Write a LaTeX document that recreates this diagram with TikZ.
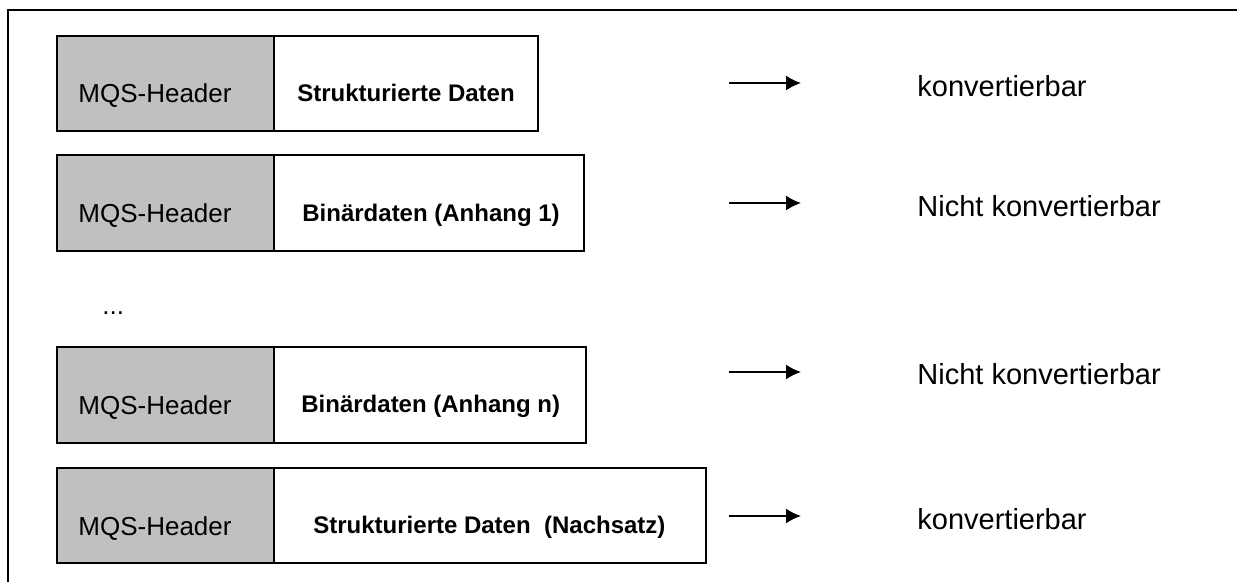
\documentclass[tikz,border=0pt]{standalone}
\usepackage{fontspec}
\setmainfont{Liberation Sans}
\usetikzlibrary{arrows.meta}
\definecolor{hdrgray}{HTML}{C0C0C0}
\tikzset{
  hdrbox/.style={draw=black,fill=hdrgray,line width=0.6pt},
  datbox/.style={draw=black,fill=white,line width=0.6pt},
  hdrtxt/.style={anchor=base west,inner sep=0pt,font=\fontsize{13}{15}\selectfont},
  dattxt/.style={anchor=base west,inner sep=0pt,font=\fontsize{12}{14}\selectfont\bfseries},
  restxt/.style={anchor=base west,inner sep=0pt,font=\fontsize{14.5}{17}\selectfont},
  conv/.style={->,line width=0.8pt}
}
\begin{document}
\begin{tikzpicture}[x=0.5pt,y=-0.5pt,>={Latex[length=7.5pt,width=7.5pt]},line join=miter]
				\useasboundingbox (0,0) rectangle (1237,582);
				% frame
				\draw[line width=0.8pt] (1237,10) -- (8,10) -- (8,582);
				% rows
				\draw[hdrbox] (57,36) rectangle (274,131);
				\draw[datbox] (274,36) rectangle (538,131);
				\draw[hdrbox] (57,155) rectangle (274,251);
				\draw[datbox] (274,155) rectangle (584,251);
				\draw[hdrbox] (57,347) rectangle (274,443);
				\draw[datbox] (274,347) rectangle (586,443);
				\draw[hdrbox] (57,468) rectangle (274,563);
				\draw[datbox] (274,468) rectangle (706,563);
				\node[hdrtxt] (h1) at (78,103) {MQS-Header};
				\node[hdrtxt] (h2) at (78,223) {MQS-Header};
				\node[hdrtxt] (h3) at (78,415) {MQS-Header};
				\node[hdrtxt] (h4) at (78,535) {MQS-Header};
				\node[dattxt] (d1) at (297,102) {Strukturierte Daten};
				\node[dattxt] (d2) at (302,222) {Binärdaten (Anhang 1)};
				\node[dattxt] (d3) at (301,413) {Binärdaten (Anhang n)};
				\node[dattxt] (d4) at (313,533) {Strukturierte Daten~~(Nachsatz)};
				\node[hdrtxt] (dots) at (102,315) {...};
				% arrows and results
				\coordinate (s1) at (729,83);
				\coordinate (e1) at (801,83);
				\coordinate (s2) at (729,203);
				\coordinate (e2) at (801,203);
				\coordinate (s3) at (729,372);
				\coordinate (e3) at (801,372);
				\coordinate (s4) at (729,516);
				\coordinate (e4) at (801,516);
				\draw[conv] (s1)--(e1);
				\draw[conv] (s2)--(e2);
				\draw[conv] (s3)--(e3);
				\draw[conv] (s4)--(e4);
				\node[restxt] (r1) at (917,97) {konvertierbar};
				\node[restxt] (r2) at (917,217) {Nicht konvertierbar};
				\node[restxt] (r3) at (917,385) {Nicht konvertierbar};
				\node[restxt] (r4) at (917,530) {konvertierbar};
			\end{tikzpicture}
\end{document}
